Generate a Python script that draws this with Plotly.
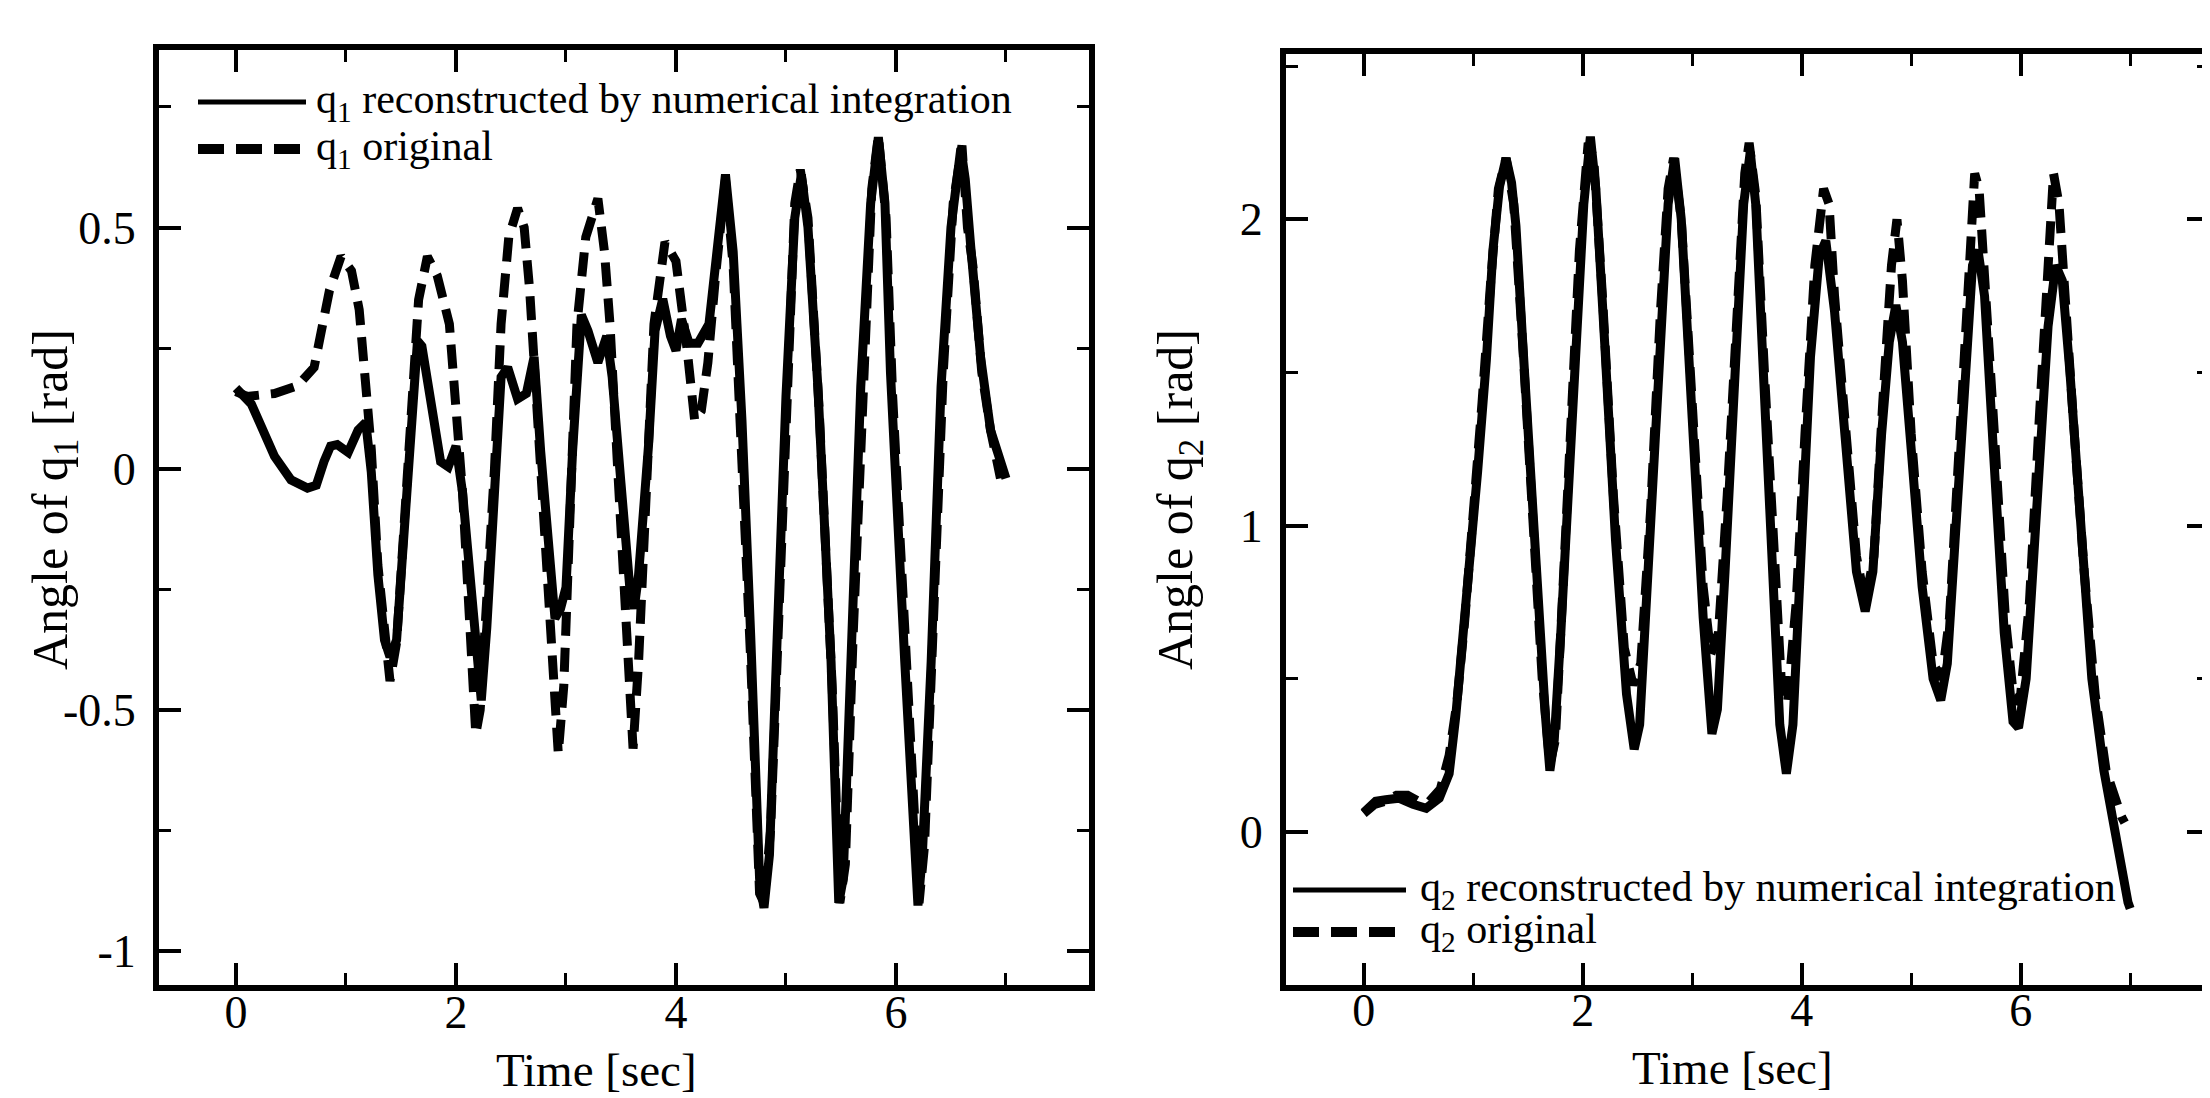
import plotly.graph_objects as go

# ---------------- data ----------------
t_q1_rec = [0, 0.14, 0.35, 0.5, 0.65, 0.73, 0.8, 0.86, 0.92, 1.02, 1.11, 1.18, 1.23, 1.29, 1.35, 1.40,
            1.46, 1.53, 1.59, 1.65, 1.69, 1.77, 1.86, 1.93, 2.0, 2.06, 2.14, 2.2, 2.23, 2.28, 2.35, 2.41,
            2.47, 2.56, 2.64, 2.71, 2.77, 2.84, 2.9, 2.95, 3.0, 3.06, 3.14, 3.2, 3.29, 3.37, 3.42, 3.5,
            3.58, 3.62, 3.66, 3.75, 3.81, 3.88, 3.95, 4.0, 4.05, 4.12, 4.2, 4.3, 4.38, 4.45, 4.52, 4.6,
            4.68, 4.76, 4.8, 4.85, 4.92, 5.0, 5.08, 5.14, 5.2, 5.29, 5.41, 5.48, 5.52, 5.59, 5.68, 5.77,
            5.84, 5.9, 5.95, 6.08, 6.2, 6.24, 6.32, 6.41, 6.5, 6.59, 6.63, 6.68, 6.77, 6.86, 6.97, 7.0]
q1_rec = [0.167, 0.134, 0.026, -0.023, -0.04, -0.034, 0.015, 0.047, 0.05, 0.034, 0.08, 0.096, -0.007,
          -0.22, -0.355, -0.39, -0.355, -0.116, 0.123, 0.265, 0.254, 0.145, 0.015, 0.004, 0.047, -0.05,
          -0.28, -0.44, -0.48, -0.33, -0.007, 0.19, 0.21, 0.145, 0.156, 0.232, 0.036, -0.18, -0.31,
          -0.29, -0.246, 0.036, 0.319, 0.286, 0.22, 0.275, 0.19, -0.03, -0.246, -0.29, -0.22, 0.047,
          0.286, 0.352, 0.275, 0.245, 0.31, 0.26, 0.26, 0.3, 0.45, 0.61, 0.45, 0.1, -0.35, -0.85, -0.91,
          -0.8, -0.35, 0.15, 0.52, 0.61, 0.5, 0.17, -0.4, -0.9, -0.85, -0.4, 0.17, 0.55, 0.687, 0.55,
          0.2, -0.4, -0.905, -0.8, -0.4, 0.17, 0.5, 0.664, 0.6, 0.46, 0.23, 0.08, -0.01, -0.02]

t_q1_orig = [0, 0.1, 0.35, 0.56, 0.71, 0.79, 0.85, 0.955, 1.05, 1.12, 1.18, 1.23, 1.29, 1.35, 1.40, 1.46,
             1.53, 1.6, 1.66, 1.74, 1.83, 1.94, 2.0, 2.06, 2.12, 2.18, 2.22, 2.28, 2.35, 2.41, 2.48, 2.56,
             2.62, 2.67, 2.73, 2.8, 2.87, 2.93, 2.98, 3.04, 3.1, 3.18, 3.29, 3.35, 3.4, 3.47, 3.54, 3.61,
             3.66, 3.74, 3.8, 3.9, 4.0, 4.1, 4.17, 4.23, 4.29, 4.36, 4.45, 4.52, 4.6, 4.68, 4.76, 4.8,
             4.86, 4.94, 5.02, 5.08, 5.13, 5.2, 5.3, 5.42, 5.49, 5.54, 5.61, 5.7, 5.78, 5.84, 5.91, 5.97,
             6.1, 6.21, 6.26, 6.34, 6.43, 6.52, 6.6, 6.65, 6.7, 6.78, 6.86, 6.95]
q1_orig = [0.16, 0.15, 0.156, 0.172, 0.21, 0.3, 0.37, 0.44, 0.41, 0.33, 0.18, 0.04, -0.2, -0.36, -0.44,
           -0.36, -0.12, 0.15, 0.35, 0.44, 0.4, 0.3, 0.12, -0.05, -0.3, -0.55, -0.5, -0.3, 0.0, 0.3, 0.48,
           0.54, 0.5, 0.37, 0.15, -0.1, -0.4, -0.59, -0.45, 0.0, 0.3, 0.48, 0.56, 0.45, 0.3, 0.0, -0.3,
           -0.58, -0.4, 0.0, 0.3, 0.47, 0.43, 0.25, 0.1, 0.12, 0.22, 0.4, 0.6, 0.42, 0.05, -0.4, -0.88,
           -0.9, -0.75, -0.3, 0.2, 0.55, 0.62, 0.52, 0.13, -0.45, -0.9, -0.82, -0.35, 0.2, 0.58, 0.69,
           0.52, 0.15, -0.45, -0.9, -0.78, -0.35, 0.2, 0.55, 0.67, 0.5, 0.42, 0.2, 0.08, -0.02]

t_q2_rec = [0, 0.11, 0.2, 0.32, 0.45, 0.57, 0.69, 0.78, 0.84, 0.9, 0.96, 1.04, 1.12, 1.18, 1.24, 1.30,
            1.35, 1.39, 1.45, 1.54, 1.6, 1.66, 1.70, 1.74, 1.8, 1.88, 1.94, 2.01, 2.07, 2.12, 2.2, 2.3,
            2.4, 2.47, 2.52, 2.6, 2.7, 2.78, 2.84, 2.9, 3.0, 3.1, 3.18, 3.23, 3.3, 3.4, 3.47, 3.53, 3.58,
            3.65, 3.72, 3.8, 3.86, 3.92, 4.0, 4.08, 4.16, 4.22, 4.3, 4.4, 4.5, 4.58, 4.65, 4.73, 4.8,
            4.86, 4.92, 5.0, 5.1, 5.2, 5.27, 5.33, 5.42, 5.5, 5.56, 5.61, 5.67, 5.75, 5.85, 5.93, 5.98,
            6.05, 6.15, 6.25, 6.32, 6.38, 6.45, 6.55, 6.65, 6.76, 6.86, 6.98, 7.0]
q2_rec = [0.063, 0.10, 0.105, 0.11, 0.09, 0.077, 0.11, 0.19, 0.376, 0.594, 0.885, 1.176, 1.54, 1.9,
          2.107, 2.2, 2.12, 1.98, 1.61, 1.03, 0.667, 0.376, 0.2, 0.3, 0.65, 1.176, 1.686, 2.05, 2.27,
          2.1, 1.6, 0.95, 0.45, 0.27, 0.35, 0.85, 1.55, 2.05, 2.2, 2.0, 1.35, 0.7, 0.32, 0.4, 0.85, 1.6,
          2.05, 2.22, 2.05, 1.5, 0.9, 0.35, 0.19, 0.35, 0.95, 1.55, 1.88, 1.93, 1.7, 1.25, 0.85, 0.72,
          0.85, 1.3, 1.6, 1.72, 1.6, 1.25, 0.8, 0.5, 0.43, 0.55, 1.1, 1.6, 1.85, 1.9, 1.75, 1.25, 0.65,
          0.36, 0.34, 0.5, 1.1, 1.65, 1.85, 1.8, 1.5, 0.95, 0.5, 0.2, -0.01, -0.23, -0.25]

t_q2_orig = [0, 0.1, 0.2, 0.3, 0.4, 0.5, 0.6, 0.7, 0.78, 0.85, 0.92, 1.0, 1.08, 1.16, 1.23, 1.3, 1.37,
             1.45, 1.55, 1.63, 1.7, 1.75, 1.82, 1.9, 1.97, 2.05, 2.1, 2.18, 2.28, 2.38, 2.46, 2.53, 2.62,
             2.71, 2.78, 2.83, 2.9, 3.0, 3.1, 3.17, 3.24, 3.32, 3.41, 3.48, 3.52, 3.58, 3.66, 3.75, 3.82,
             3.87, 3.95, 4.03, 4.12, 4.2, 4.25, 4.3, 4.4, 4.5, 4.58, 4.66, 4.74, 4.82, 4.87, 4.92, 5.0,
             5.1, 5.2, 5.28, 5.35, 5.44, 5.52, 5.58, 5.62, 5.68, 5.76, 5.86, 5.94, 6.0, 6.08, 6.17, 6.26,
             6.3, 6.35, 6.4, 6.48, 6.58, 6.68, 6.78, 6.86, 6.92, 6.95]
q2_orig = [0.06, 0.09, 0.1, 0.12, 0.12, 0.1, 0.1, 0.14, 0.25, 0.42, 0.68, 1.0, 1.4, 1.8, 2.1, 2.2, 2.05,
           1.6, 0.95, 0.5, 0.22, 0.3, 0.8, 1.4, 1.9, 2.25, 2.2, 1.75, 1.1, 0.6, 0.48, 0.55, 1.05, 1.7,
           2.1, 2.2, 2.0, 1.4, 0.8, 0.58, 0.65, 1.1, 1.75, 2.15, 2.25, 2.08, 1.5, 0.85, 0.45, 0.42, 0.75,
           1.3, 1.85, 2.1, 2.05, 1.75, 1.3, 0.9, 0.75, 0.9, 1.4, 1.85, 2.0, 1.8, 1.3, 0.85, 0.55, 0.5,
           0.7, 1.3, 1.85, 2.15, 2.1, 1.8, 1.3, 0.7, 0.42, 0.45, 0.75, 1.35, 1.9, 2.15, 2.05, 1.75, 1.35,
           0.85, 0.45, 0.2, 0.1, 0.05, 0.03]

x_ticks = [0, 2, 4, 6]
y1_ticks = [-1, -0.5, 0, 0.5]
y1_labels = ["-1", "-0.5", "0", "0.5"]
y2_ticks = [0, 1, 2]

# ---------------- style ----------------
FONT = "Liberation Serif, Times New Roman, serif"
W, H = 2210, 1098
LW = 9
DASH = "24px,12px"

fig = go.Figure()
fig.add_trace(go.Scatter(x=t_q1_orig, y=q1_orig, mode="lines", xaxis="x", yaxis="y",
                         line=dict(color="black", width=LW, dash=DASH), showlegend=False))
fig.add_trace(go.Scatter(x=t_q1_rec, y=q1_rec, mode="lines", xaxis="x", yaxis="y",
                         line=dict(color="black", width=LW), showlegend=False))
fig.add_trace(go.Scatter(x=t_q2_orig, y=q2_orig, mode="lines", xaxis="x2", yaxis="y2",
                         line=dict(color="black", width=LW, dash=DASH), showlegend=False))
fig.add_trace(go.Scatter(x=t_q2_rec, y=q2_rec, mode="lines", xaxis="x2", yaxis="y2",
                         line=dict(color="black", width=LW), showlegend=False))


def px_x(v):
    return v / W


def px_y(v):
    return 1 - v / H


common = dict(showline=True, linecolor="black", linewidth=6, mirror="allticks",
              ticks="inside", ticklen=22, tickwidth=4, tickcolor="black",
              showgrid=False, zeroline=False,
              tickfont=dict(family=FONT, size=46, color="black"))

fig.update_layout(
    width=W, height=H, margin=dict(l=0, r=0, t=0, b=0, pad=0),
    paper_bgcolor="white", plot_bgcolor="white", showlegend=False,
    xaxis=dict(domain=[px_x(151), px_x(1081)], range=[-0.70, 7.755], anchor="y",
               tickvals=x_ticks, ticklabelstandoff=-18,
               minor=dict(dtick=1, tick0=0, ticks="inside", ticklen=12, tickwidth=3, tickcolor="black"),
               **common),
    yaxis=dict(domain=[px_y(977), px_y(42)], range=[-1.07, 0.868], anchor="x",
               tickvals=y1_ticks, ticktext=y1_labels, ticklabelstandoff=8,
               minor=dict(dtick=0.25, tick0=0, ticks="inside", ticklen=12, tickwidth=3, tickcolor="black"),
               **common),
    xaxis2=dict(domain=[px_x(1278), px_x(2201)], range=[-0.71, 7.72], anchor="y2",
                tickvals=x_ticks, ticklabelstandoff=-20,
                minor=dict(dtick=1, tick0=0, ticks="inside", ticklen=12, tickwidth=3, tickcolor="black"),
                **common),
    yaxis2=dict(domain=[px_y(977), px_y(46)], range=[-0.5, 2.54], anchor="x2",
                tickvals=y2_ticks, ticklabelstandoff=8,
                minor=dict(dtick=0.5, tick0=0, ticks="inside", ticklen=12, tickwidth=3, tickcolor="black"),
                **common),
)

ytitle_font = dict(family=FONT, size=50, color="black")
xtitle_font = dict(family=FONT, size=47, color="black")
legend_font = dict(family=FONT, size=42, color="black")
annotations = [
    dict(text="Angle of q<sub>1</sub> [rad]", x=px_x(46), y=px_y(492), textangle=-90, font=ytitle_font),
    dict(text="Angle of q<sub>2</sub> [rad]", x=px_x(1171), y=px_y(492), textangle=-90, font=ytitle_font),
    dict(text="Time [sec]", x=px_x(588), y=px_y(1062), font=xtitle_font),
    dict(text="Time [sec]", x=px_x(1724), y=px_y(1060), font=xtitle_font),
]
for a in annotations:
    fig.add_annotation(xref="paper", yref="paper", showarrow=False,
                       xanchor="center", yanchor="middle", **a)

# manual legends (line samples + labels)
legend_rows = [
    # (x0, x1, text_x, y, dashed, label)
    (190, 298, 306, 94, False, "q<sub>1</sub> reconstructed by numerical integration"),
    (190, 298, 306, 141, True, "q<sub>1</sub> original"),
    (1285, 1398, 1410, 882, False, "q<sub>2</sub> reconstructed by numerical integration"),
    (1285, 1398, 1410, 924, True, "q<sub>2</sub> original"),
]
for x0, x1, tx, y, dashed, label in legend_rows:
    fig.add_shape(type="line", xref="paper", yref="paper",
                  x0=px_x(x0), x1=px_x(x1), y0=px_y(y), y1=px_y(y),
                  line=dict(color="black", width=10 if dashed else 5, dash="26px,12px" if dashed else "solid"))
    fig.add_annotation(xref="paper", yref="paper", showarrow=False, font=legend_font,
                       x=px_x(tx), y=px_y(y), xanchor="left", yanchor="middle", text=label)

fig.write_html("out.html")
